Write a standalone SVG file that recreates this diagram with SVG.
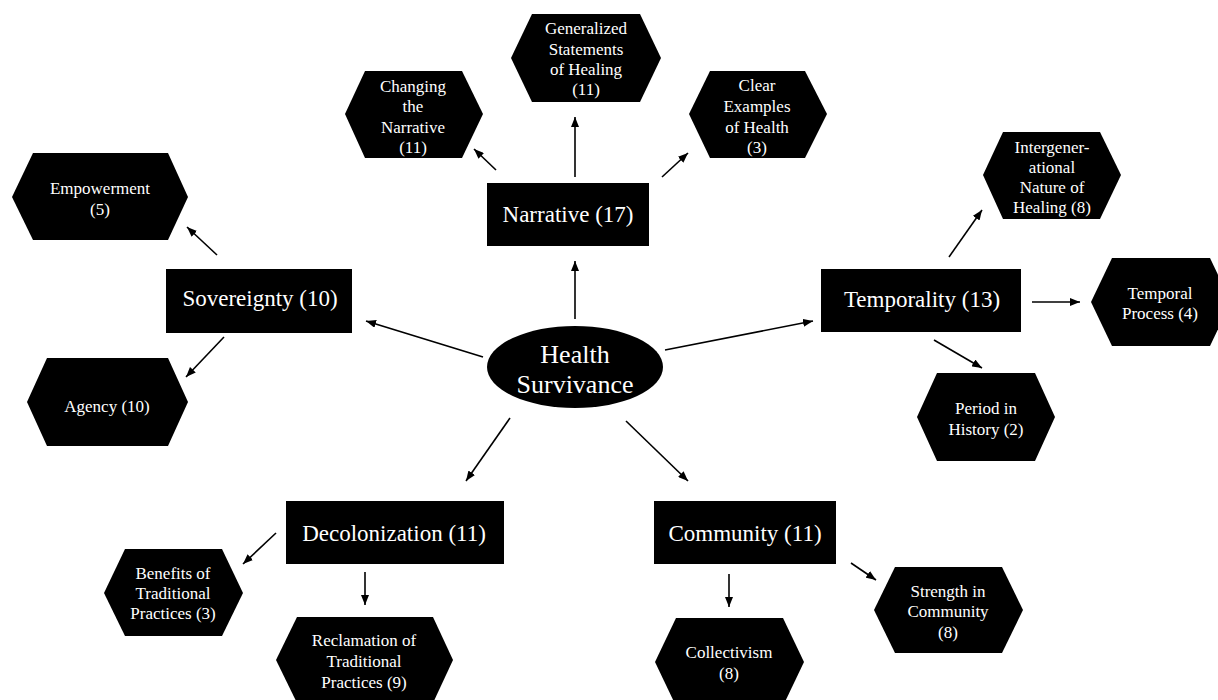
<svg xmlns="http://www.w3.org/2000/svg" width="1218" height="700" viewBox="0 0 1218 700">
<defs>
<marker id="ah" markerUnits="userSpaceOnUse" markerWidth="10" markerHeight="8" refX="10" refY="4" orient="auto">
<path d="M0,0 L10,4 L0,8 z" fill="#000"/>
</marker>
</defs>
<style>
.bg{fill:#fff}
.shape{fill:#000}
.t{font-family:"Liberation Serif","Times New Roman",serif;fill:#fff;text-anchor:middle}
.s{font-size:17px}
.m{font-size:23px}
.l{font-size:26px}
.c{stroke:#000;stroke-width:1.6;fill:none;marker-end:url(#ah)}
</style>
<rect class="bg" x="0" y="0" width="1218" height="700"/>
<g id="connectors">
<line class="c" x1="217" y1="255" x2="187" y2="227"/>
<line class="c" x1="224" y1="337" x2="186" y2="377"/>
<line class="c" x1="483" y1="357" x2="366" y2="321"/>
<line class="c" x1="575" y1="319" x2="575" y2="261"/>
<line class="c" x1="575" y1="177" x2="575" y2="117"/>
<line class="c" x1="496" y1="170" x2="474" y2="149"/>
<line class="c" x1="662" y1="177" x2="688" y2="153"/>
<line class="c" x1="665" y1="350" x2="813" y2="321"/>
<line class="c" x1="949" y1="257" x2="982" y2="210"/>
<line class="c" x1="1032" y1="302" x2="1080" y2="302"/>
<line class="c" x1="934" y1="340" x2="982" y2="368"/>
<line class="c" x1="510" y1="418" x2="466" y2="481"/>
<line class="c" x1="276" y1="533" x2="243" y2="564"/>
<line class="c" x1="365" y1="572" x2="365" y2="605"/>
<line class="c" x1="626" y1="421" x2="688" y2="481"/>
<line class="c" x1="729" y1="574" x2="729" y2="607"/>
<line class="c" x1="851" y1="563" x2="876" y2="580"/>
</g>
<g id="health">
<ellipse class="shape" cx="575" cy="367" rx="88" ry="41"/>
<text class="t l" x="575" y="363">Health</text>
<text class="t l" x="575" y="393">Survivance</text>
</g>
<g id="sovereignty">
<rect class="shape" x="166" y="269" width="186" height="64"/>
<text class="t m" x="260" y="306">Sovereignty (10)</text>
</g>
<g id="narrative">
<rect class="shape" x="487" y="183" width="162" height="63"/>
<text class="t m" x="568" y="222">Narrative (17)</text>
</g>
<g id="temporality">
<rect class="shape" x="821" y="269" width="200" height="63"/>
<text class="t m" x="922" y="307">Temporality (13)</text>
</g>
<g id="decolonization">
<rect class="shape" x="286" y="501" width="218" height="63"/>
<text class="t m" x="394" y="541">Decolonization (11)</text>
</g>
<g id="community">
<rect class="shape" x="654" y="501" width="182" height="63"/>
<text class="t m" x="745" y="541">Community (11)</text>
</g>
<g id="empowerment">
<polygon class="shape" points="12,197 33,153 168,153 188,197 168,240 33,240"/>
<text class="t s" x="100" y="194">Empowerment</text>
<text class="t s" x="100" y="215">(5)</text>
</g>
<g id="agency">
<polygon class="shape" points="27,402 47,358 168,358 188,402 168,446 47,446"/>
<text class="t s" x="107" y="412">Agency (10)</text>
</g>
<g id="changing">
<polygon class="shape" points="345,114 365,71 462,71 483,114 462,158 365,158"/>
<text class="t s" x="413" y="92">Changing</text>
<text class="t s" x="413" y="112">the</text>
<text class="t s" x="413" y="133">Narrative</text>
<text class="t s" x="413" y="153">(11)</text>
</g>
<g id="generalized">
<polygon class="shape" points="511,58 532,14 640,14 661,58 640,102 532,102"/>
<text class="t s" x="586" y="34">Generalized</text>
<text class="t s" x="586" y="55">Statements</text>
<text class="t s" x="586" y="75">of Healing</text>
<text class="t s" x="586" y="95">(11)</text>
</g>
<g id="clear">
<polygon class="shape" points="689,114 710,71 805,71 827,114 805,158 710,158"/>
<text class="t s" x="757" y="91">Clear</text>
<text class="t s" x="757" y="112">Examples</text>
<text class="t s" x="757" y="133">of Health</text>
<text class="t s" x="757" y="153">(3)</text>
</g>
<g id="intergenerational">
<polygon class="shape" points="983,175 1003,132 1100,132 1121,175 1100,219 1003,219"/>
<text class="t s" x="1052" y="153">Intergener-</text>
<text class="t s" x="1052" y="173">ational</text>
<text class="t s" x="1052" y="193">Nature of</text>
<text class="t s" x="1052" y="213">Healing (8)</text>
</g>
<g id="temporal-process">
<polygon class="shape" points="1091,302 1112,258 1210,258 1231,302 1210,346 1112,346"/>
<text class="t s" x="1160" y="299">Temporal</text>
<text class="t s" x="1160" y="319">Process (4)</text>
</g>
<g id="period">
<polygon class="shape" points="917,417 937,373 1035,373 1055,417 1035,461 937,461"/>
<text class="t s" x="986" y="414">Period in</text>
<text class="t s" x="986" y="435">History (2)</text>
</g>
<g id="benefits">
<polygon class="shape" points="104,593 125,549 222,549 243,593 222,636 125,636"/>
<text class="t s" x="173" y="579">Benefits of</text>
<text class="t s" x="173" y="599">Traditional</text>
<text class="t s" x="173" y="619">Practices (3)</text>
</g>
<g id="reclamation">
<polygon class="shape" points="276,660 297,617 433,617 453,660 433,703 297,703"/>
<text class="t s" x="364" y="646">Reclamation of</text>
<text class="t s" x="364" y="667">Traditional</text>
<text class="t s" x="364" y="688">Practices (9)</text>
</g>
<g id="collectivism">
<polygon class="shape" points="655,662 676,618 783,618 804,662 783,706 676,706"/>
<text class="t s" x="729" y="658">Collectivism</text>
<text class="t s" x="729" y="679">(8)</text>
</g>
<g id="strength">
<polygon class="shape" points="874,610 895,567 1002,567 1023,610 1002,653 895,653"/>
<text class="t s" x="948" y="597">Strength in</text>
<text class="t s" x="948" y="617">Community</text>
<text class="t s" x="948" y="638">(8)</text>
</g>
</svg>
